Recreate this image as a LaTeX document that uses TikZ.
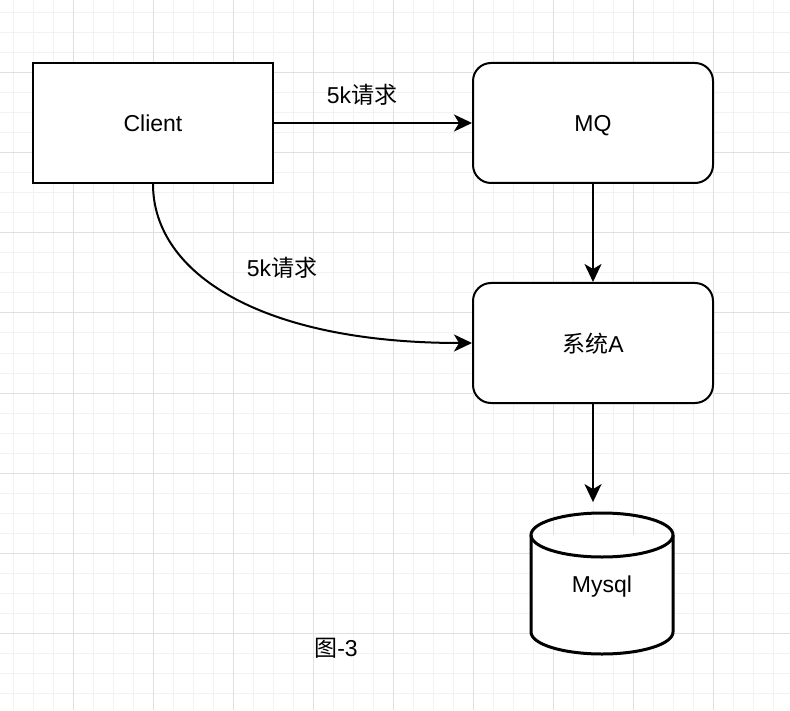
\documentclass[tikz,border=0pt]{standalone}
\usepackage{fontspec}
\setmainfont{Liberation Sans}
\newfontfamily\cjk{Noto Sans CJK SC}
\usetikzlibrary{arrows.meta}

\begin{document}
\begin{tikzpicture}[x=0.5pt, y=-0.5pt,
  box/.style = {draw, fill=white, line width=1pt, minimum width=120pt, minimum height=60pt, inner sep=0pt, text depth=0pt, font=\fontsize{11.5}{14}\selectfont},
  rbox/.style = {box, rounded corners=9pt},
  lbl/.style = {inner sep=0pt, font=\fontsize{11.5}{14}\selectfont},
  arr/.style = {line width=1pt, -{Stealth[length=9pt, width=8.5pt, inset=2.5pt]}}]

\useasboundingbox (0,0) rectangle (790,710);
\fill[white] (0,0) rectangle (790,710);

% Grid
\foreach \x in {13,33,...,793} {
  \draw[black!5, line width=0.5pt] (\x,0) -- (\x,710);
}
\foreach \y in {13,33,...,713} {
  \draw[black!5, line width=0.5pt] (0,\y) -- (790,\y);
}
\foreach \x in {73,153,...,713} {
  \draw[black!12, line width=0.5pt] (\x,0) -- (\x,710);
}
\foreach \y in {73,153,...,633} {
  \draw[black!12, line width=0.5pt] (0,\y) -- (790,\y);
}

% Boxes
\node[box] (client) at (153,123) {Client};
\node[rbox] (mq) at (593,123) {MQ};
\node[rbox] (sysa) at (593,343) {{\cjk 系统}A};

% Cylinder
\filldraw[fill=white, line width=1.5pt] (531,535) -- (531,632) arc[start angle=180, end angle=360, x radius=35.5pt, y radius=11pt] -- (673,535);
\draw[line width=1.5pt] (602,535) ellipse[x radius=35.5pt, y radius=11pt];
\node[lbl, minimum width=71pt, minimum height=70.5pt, text depth=0pt] (mysql) at (602,584) {Mysql};

% Labels
\node[lbl] (lblA) at (362,95) {5k{\cjk 请求}};
\node[lbl] (lblB) at (282,268) {5k{\cjk 请求}};
\node[lbl] (fig) at (336,648) {{\cjk 图}-3};

% Lines
\draw[arr] (client.east) -- (mq.west);
\draw[arr] (mq.south) -- (sysa.north);
\draw[arr] (client.south) .. controls +(0,90) and +(-210,0) .. (sysa.west);
\draw[arr, shorten >=5.5pt] (sysa.south) -- (sysa.south |- mysql.north);

\end{tikzpicture}
\end{document}
